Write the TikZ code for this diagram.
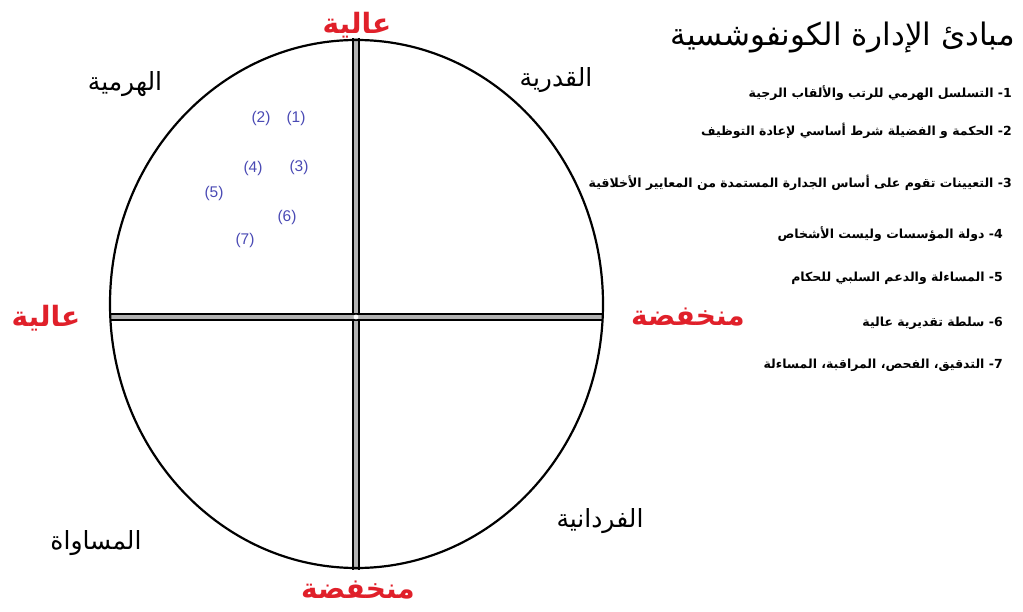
\documentclass[tikz,border=0pt]{standalone}
\usepackage{fontspec}
\TeXXeTstate=1
\setmainfont{Liberation Sans}
\newfontfamily\arabicfont[Script=Arabic]{DejaVu Sans}
\definecolor{lblred}{HTML}{E0202A}
\definecolor{numblue}{HTML}{4A4AB4}
\begin{document}
\begin{tikzpicture}[x=1pt,y=-1pt,
  axislbl/.style={text=lblred, font=\arabicfont\bfseries\fontsize{28}{32}\selectfont, inner sep=0pt},
  quadlbl/.style={font=\arabicfont\fontsize{25}{29}\selectfont, inner sep=0pt},
  numlbl/.style={text=numblue, font=\fontsize{15.5}{18}\selectfont, inner sep=0pt},
  itemlbl/.style={font=\arabicfont\bfseries\fontsize{12.5}{15}\selectfont, anchor=east, inner sep=0pt},
  titlelbl/.style={font=\arabicfont\fontsize{31}{35}\selectfont, anchor=east, inner sep=0pt},
  axisline/.style={line width=1.5pt, double=gray!60, double distance=4.4pt},
  rim/.style={line width=2.2pt},
]
\useasboundingbox (0,0) rectangle (1023,612);
\coordinate (C) at (356,317);
\coordinate (T) at (356,38);
\coordinate (B) at (356,570);
\coordinate (L) at (110,317);
\coordinate (R) at (603,317);
\draw[axisline] (T) -- (B);
\draw[axisline] (L) -- (R);
\fill[white] (C) circle (2.4pt);
\draw[rim] (356.5,304) ellipse [x radius=246.5, y radius=264];

\node[axislbl] (hiT) at (357,25) {\beginR عالية\endR};
\node[axislbl] (hiL) at (46,318) {\beginR عالية\endR};
\node[axislbl] (loR) at (688,317) {\beginR منخفضة\endR};
\node[axislbl] (loB) at (358,590) {\beginR منخفضة\endR};

\node[quadlbl] (qTL) at (125,84) {\beginR الهرمية\endR};
\node[quadlbl] (qTR) at (556,80) {\beginR القدرية\endR};
\node[quadlbl] (qBL) at (96,543) {\beginR المساواة\endR};
\node[quadlbl] (qBR) at (600,521) {\beginR الفردانية\endR};

\node[numlbl] (n1) at (296,118) {(1)};
\node[numlbl] (n2) at (261,118) {(2)};
\node[numlbl] (n3) at (299,167) {(3)};
\node[numlbl] (n4) at (253,168) {(4)};
\node[numlbl] (n5) at (214,193) {(5)};
\node[numlbl] (n6) at (287,217) {(6)};
\node[numlbl] (n7) at (245,240) {(7)};

\node[titlelbl] (title) at (1015,38) {\beginR مبادئ الإدارة الكونفوشسية\endR};

\node[itemlbl] (i1) at (1012,93) {\beginR 1- التسلسل الهرمي للرتب والألقاب الرجية\endR};
\node[itemlbl] (i2) at (1012,131) {\beginR 2- الحكمة و الفضيلة شرط أساسي لإعادة التوظيف\endR};
\node[itemlbl] (i3) at (1012,183) {\beginR 3- التعيينات تقوم على أساس الجدارة المستمدة من المعايير الأخلاقية\endR};
\node[itemlbl] (i4) at (1003,234) {\beginR 4- دولة المؤسسات وليست الأشخاص\endR};
\node[itemlbl] (i5) at (1003,278) {\beginR 5- المساءلة والدعم السلبي للحكام\endR};
\node[itemlbl] (i6) at (1003,323) {\beginR 6- سلطة تقديرية عالية\endR};
\node[itemlbl] (i7) at (1003,365) {\beginR 7- التدقيق، الفحص، المراقبة، المساءلة\endR};
\end{tikzpicture}
\end{document}
